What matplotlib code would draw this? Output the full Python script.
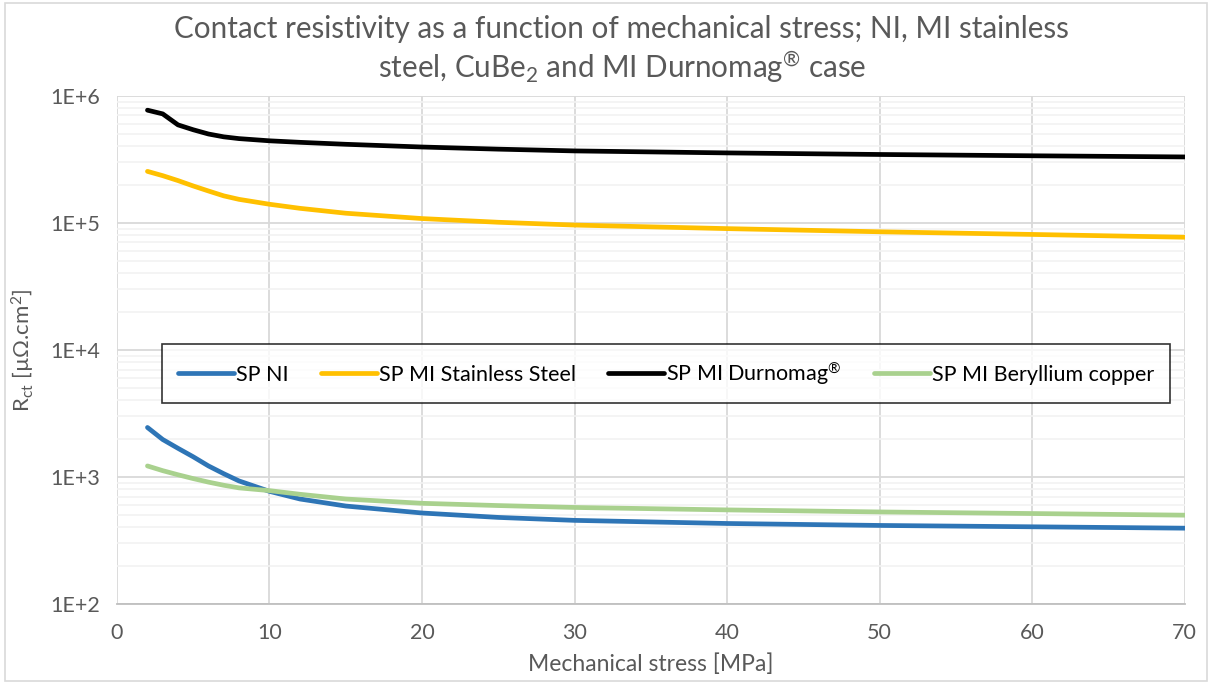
import numpy as np
import matplotlib
matplotlib.use("Agg")
import matplotlib.pyplot as plt
from matplotlib.ticker import LogLocator, FuncFormatter, MultipleLocator
from matplotlib.patches import Rectangle

plt.rcParams['font.family'] = ['Lato', 'DejaVu Sans']
plt.rcParams['mathtext.default'] = 'regular'

# stress [MPa]
stress = [2, 3, 4, 5, 6, 7, 8, 10, 12, 15, 20, 25, 30, 40, 50, 60, 70]

# contact resistivity [uOhm.cm2]
sp_ni = [2450, 1970, 1680, 1440, 1220, 1060, 930, 770, 670, 590, 520, 480, 455, 430, 415, 405, 395]
sp_mi_ss = [254000, 235000, 215000, 195000, 178000, 163000, 153000, 140000, 130000, 119000,
            108000, 101000, 96000, 90000, 85000, 81000, 77000]
sp_mi_durnomag = [770000, 720000, 590000, 540000, 500000, 475000, 460000, 442000, 430000, 415000,
                  395000, 380000, 368000, 355000, 345000, 337000, 330000]
sp_mi_cube = [1220, 1120, 1040, 970, 910, 860, 820, 780, 730, 670, 620, 595, 575, 550, 530, 515, 500]

series_labels = ["SP NI", "SP MI Stainless Steel", "SP MI Durnomag$^{®}$", "SP MI Beryllium copper"]
series_colors = ["#2E75B6", "#FFC000", "#000000", "#A9D18E"]

fig = plt.figure(figsize=(12.12, 6.84), dpi=100)
fig.patches.append(Rectangle((0.004, 0.004), 0.992, 0.992, transform=fig.transFigure,
                             fill=False, edgecolor="#D9D9D9", lw=1.2))
ax = fig.add_axes([0.0965, 0.117, 0.881, 0.743])

for yv, lab, col in zip([sp_ni, sp_mi_ss, sp_mi_durnomag, sp_mi_cube], series_labels, series_colors):
    ax.plot(stress, yv, color=col, lw=3.4, label=lab, solid_capstyle="round", solid_joinstyle="round")

ax.set_yscale("log")
ax.set_ylim(1e2, 1e6)
ax.set_xlim(0, 70)
ax.xaxis.set_major_locator(MultipleLocator(10))
ax.yaxis.set_major_locator(LogLocator(base=10, numticks=10))
ax.yaxis.set_minor_locator(LogLocator(base=10, subs=np.arange(2, 10), numticks=20))
ax.yaxis.set_major_formatter(FuncFormatter(lambda v, p: "1E+%d" % round(np.log10(v))))
ax.yaxis.set_minor_formatter(FuncFormatter(lambda v, p: ""))

ax.grid(True, which="major", color="#D9D9D9", lw=1.3)
ax.grid(True, which="minor", axis="y", color="#F2F2F2", lw=1.2)
ax.set_axisbelow(True)
for s in ["top", "right", "left"]:
    ax.spines[s].set_visible(False)
ax.spines["bottom"].set_color("#BFBFBF")
ax.spines["bottom"].set_linewidth(1.3)
ax.tick_params(axis="both", which="both", length=0, labelsize=15.5, labelcolor="#595959", pad=12)
ax.tick_params(axis="x", pad=14)

ax.set_xlabel("Mechanical stress [MPa]", fontsize=16.5, color="#595959", labelpad=7)
ax.set_ylabel("R$_{ct}$ [µΩ.cm$^{2}$]", fontsize=16, color="#595959", labelpad=10)

fig.text(0.513, 0.927, "Contact resistivity as a function of mechanical stress; NI, MI stainless\n"
         "steel, CuBe$_{2}$ and MI Durnomag$^{®}$ case",
         ha="center", va="center", fontsize=21.3, color="#595959", linespacing=1.25)

leg = ax.legend(loc="center", bbox_to_anchor=(0.5495, 0.454), bbox_transform=fig.transFigure,
                ncol=4, fontsize=15.5, frameon=True, fancybox=False, edgecolor="black",
                handlelength=2.6, handletextpad=0.1, columnspacing=1.5, borderpad=0.75)
leg.get_frame().set_linewidth(1.2)

fig.savefig("out.png", dpi=100)
